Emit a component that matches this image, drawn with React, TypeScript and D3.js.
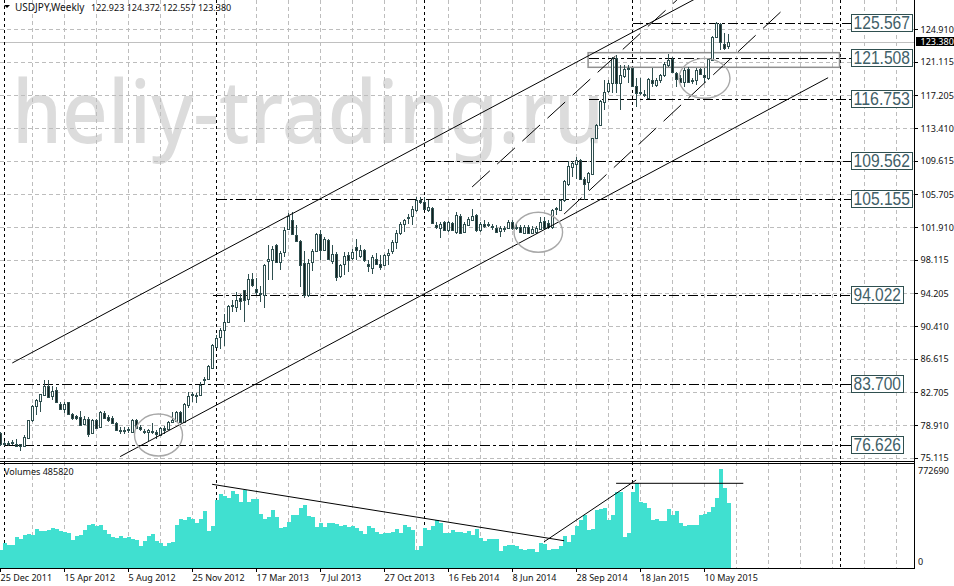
import * as d3 from "d3";

// weekly USDJPY candles
const opens = [
  77.98, 76.82, 76.78, 76.9, 76.74, 76.66, 76.46, 77.44, 79.45, 81.12,
  81.7, 82.36, 83.4, 82.25, 83.02, 81.39, 80.77, 81.54, 80.23, 79.92,
  79.84, 78.99, 79.64, 77.98, 79.53, 78.68, 80.34, 79.84, 79.76, 79.14,
  78.37, 78.33, 78.44, 78.09, 79.53, 78.68, 78.25, 78.09, 78.21, 78.13,
  77.78, 78.6, 78.41, 79.26, 79.38, 80.38, 79.3, 81.19, 82.43, 82.43,
  82.36, 84.25, 84.26, 85.57, 87.98, 89.14, 89.92, 90.88, 92.82, 92.63,
  93.64, 94.57, 93.59, 95.92, 94.66, 94.25, 93.98, 98.0, 98.05, 99.79,
  97.85, 99.02, 101.73, 102.7, 100.95, 100.3, 97.74, 93.98, 97.85, 99.13,
  101.15, 99.29, 100.37, 97.97, 98.82, 96.19, 97.58, 98.63, 98.32, 99.6,
  98.51, 99.21, 97.66, 97.16, 98.24, 97.66, 97.47, 98.71, 99.13, 100.18,
  101.23, 102.31, 103.05, 103.2, 103.94, 105.02, 104.79, 103.86, 104.17, 102.19,
  101.85, 102.47, 101.54, 102.39, 101.34, 103.2, 101.34, 102.19, 102.78, 103.28,
  101.54, 102.31, 102.2, 102.08, 101.85, 101.46, 101.7, 101.85, 102.5, 101.9,
  101.92, 101.27, 101.92, 101.27, 101.34, 101.73, 102.58, 102.39, 101.92, 104.05,
  103.94, 105.02, 106.88, 108.9, 109.21, 109.68, 107.43, 107.16, 108.12, 112.3,
  113.74, 116.46, 117.7, 118.59, 121.5, 118.59, 119.44, 120.26, 120.33, 118.28,
  117.5, 117.35, 116.85, 118.98, 118.4, 118.98, 119.56, 120.72, 121.38, 119.75,
  119.17, 118.78, 120.22, 118.98, 118.98, 120.22, 119.56, 119.17, 121.3, 124.02,
  125.49, 123.16, 122.923,
];
const highs = [
  78.1, 77.01, 77.0, 77.2, 77.3, 76.7, 77.7, 79.53, 81.2, 81.97,
  82.55, 84.1, 84.1, 83.4, 83.33, 81.58, 81.54, 81.58, 80.3, 80.03,
  80.54, 79.92, 79.84, 79.64, 79.64, 80.54, 80.54, 80.03, 79.92, 79.26,
  78.68, 78.68, 78.68, 79.61, 79.61, 78.87, 78.48, 78.48, 79.18, 78.29,
  78.68, 78.75, 79.38, 80.42, 80.54, 80.54, 81.47, 82.74, 82.74, 82.63,
  83.91, 84.49, 85.88, 88.29, 89.34, 90.23, 91.85, 92.9, 93.4, 94.37,
  94.18, 94.65, 96.5, 96.58, 96.03, 95.02, 97.66, 99.79, 99.67, 99.91,
  99.13, 101.92, 103.59, 103.67, 102.12, 100.37, 99.13, 98.24, 99.4, 101.23,
  101.54, 100.76, 100.57, 99.79, 99.02, 97.66, 99.02, 99.02, 99.4, 100.57,
  99.79, 99.4, 98.05, 98.63, 98.9, 98.63, 98.82, 99.4, 100.37, 101.54,
  102.5, 102.89, 103.47, 104.33, 105.41, 105.41, 105.41, 105.02, 104.25, 102.5,
  102.5, 102.62, 102.62, 102.54, 103.67, 103.47, 102.5, 103.09, 104.06, 103.47,
  102.5, 102.7, 102.5, 102.31, 102.12, 102.0, 102.0, 102.7, 102.7, 102.31,
  102.12, 102.12, 102.12, 102.0, 102.0, 103.09, 103.09, 102.7, 104.05, 104.25,
  105.22, 107.35, 109.56, 109.56, 110.06, 109.76, 107.74, 108.3, 112.27, 113.9,
  116.65, 118.98, 118.98, 121.69, 121.88, 120.72, 120.72, 120.72, 120.41, 119.17,
  119.17, 117.81, 119.17, 120.33, 119.17, 119.68, 121.11, 122.0, 121.61, 119.95,
  119.56, 120.33, 120.53, 119.17, 120.33, 120.33, 120.33, 121.5, 124.09, 125.76,
  125.57, 124.4, 124.372,
];
const lows = [
  76.5, 76.5, 76.5, 76.55, 76.45, 75.88, 76.42, 77.32, 79.26, 80.03,
  80.42, 82.36, 82.09, 81.85, 81.47, 80.69, 80.3, 80.11, 79.53, 79.45,
  78.75, 78.87, 77.51, 77.82, 78.44, 78.6, 79.64, 79.26, 78.99, 78.29,
  77.9, 77.9, 77.98, 78.06, 78.44, 78.21, 77.9, 77.0, 77.82, 77.32,
  77.71, 77.9, 78.29, 79.26, 79.26, 79.22, 79.22, 80.92, 81.58, 81.47,
  82.36, 83.52, 84.18, 85.5, 87.9, 87.78, 88.06, 90.77, 92.05, 92.05,
  92.24, 90.88, 92.81, 94.95, 93.98, 93.2, 92.54, 95.72, 95.8, 97.74,
  96.96, 98.44, 101.61, 101.07, 100.18, 94.95, 93.71, 93.78, 96.81, 99.02,
  98.13, 99.13, 98.05, 97.66, 95.64, 96.03, 96.3, 96.69, 98.13, 98.05,
  98.36, 97.85, 96.69, 96.42, 97.47, 96.88, 97.35, 97.47, 98.82, 99.4,
  100.95, 101.34, 102.31, 102.12, 103.67, 104.56, 103.94, 103.67, 102.23, 101.73,
  100.68, 101.46, 101.34, 101.46, 101.15, 101.07, 101.23, 102.0, 102.62, 101.34,
  101.34, 101.85, 101.92, 101.54, 101.23, 100.76, 101.34, 101.73, 101.54, 101.54,
  101.23, 101.15, 101.15, 101.15, 101.15, 101.54, 101.61, 101.73, 101.73, 103.28,
  103.86, 104.83, 106.65, 107.74, 107.54, 107.35, 105.1, 106.19, 108.0, 112.2,
  113.6, 115.49, 117.43, 117.43, 117.43, 115.49, 119.17, 118.59, 118.2, 115.8,
  117.23, 117.04, 116.73, 118.13, 118.13, 118.59, 119.37, 120.53, 119.83, 118.13,
  118.59, 118.2, 118.59, 118.51, 118.4, 119.56, 118.67, 118.98, 121.23, 123.82,
  122.47, 122.47, 122.557,
];
const closes = [
  76.74, 76.85, 76.82, 76.95, 76.5, 76.46, 77.5, 79.45, 81.12, 81.78,
  82.47, 83.4, 82.17, 82.82, 81.58, 80.77, 81.39, 80.15, 79.76, 79.68,
  78.91, 79.64, 77.9, 79.45, 78.52, 80.38, 79.76, 79.45, 79.14, 78.37,
  78.33, 78.37, 78.29, 79.53, 78.56, 78.41, 78.21, 78.37, 78.25, 77.82,
  78.6, 78.37, 79.26, 79.45, 80.38, 79.3, 81.31, 82.28, 82.47, 82.4,
  83.52, 84.27, 85.81, 88.17, 89.06, 89.99, 90.88, 92.78, 92.9, 93.48,
  93.33, 93.48, 95.92, 95.14, 94.41, 94.2, 97.47, 98.15, 99.4, 97.85,
  98.9, 101.54, 103.2, 101.15, 100.3, 97.47, 93.98, 97.78, 99.09, 101.15,
  99.21, 100.57, 98.24, 98.82, 96.11, 97.47, 98.55, 98.05, 99.02, 99.29,
  99.29, 98.05, 97.43, 98.44, 97.66, 97.27, 98.63, 98.94, 100.14, 101.23,
  102.31, 102.7, 103.13, 104.06, 105.1, 104.79, 104.06, 104.25, 102.39, 101.92,
  102.31, 101.61, 102.47, 101.61, 103.28, 101.23, 102.23, 102.81, 103.24, 101.54,
  102.23, 102.08, 102.25, 101.92, 101.3, 101.85, 101.75, 102.5, 101.85, 101.95,
  101.34, 101.92, 101.27, 101.73, 101.81, 102.5, 101.81, 101.92, 103.86, 104.1,
  105.02, 107.27, 108.98, 109.29, 109.68, 107.54, 106.88, 108.2, 112.27, 113.74,
  116.5, 117.62, 118.59, 121.5, 118.67, 119.56, 120.26, 120.4, 118.28, 117.5,
  117.55, 117.4, 119.05, 118.59, 118.98, 119.56, 120.8, 121.3, 119.95, 119.05,
  118.78, 120.14, 118.78, 119.02, 120.14, 119.68, 119.29, 121.42, 124.02, 125.57,
  123.44, 122.66, 123.38,
];
const volumes = [
  141000, 191000, 175000, 175000, 238000, 222000, 254000, 259000, 256000, 301000,
  288000, 285000, 293000, 309000, 301000, 285000, 277000, 272000, 214000, 248000,
  256000, 293000, 332000, 340000, 327000, 332000, 293000, 262000, 238000, 230000,
  246000, 235000, 238000, 220000, 212000, 167000, 207000, 248000, 262000, 207000,
  196000, 167000, 191000, 199000, 332000, 379000, 371000, 395000, 379000, 348000,
  379000, 442000, 285000, 324000, 528000, 575000, 560000, 547000, 599000, 578000,
  513000, 609000, 513000, 541000, 536000, 418000, 379000, 395000, 450000, 395000,
  309000, 316000, 356000, 411000, 411000, 465000, 489000, 405000, 395000, 316000,
  348000, 319000, 348000, 348000, 340000, 327000, 332000, 316000, 324000, 311000,
  288000, 262000, 324000, 309000, 277000, 262000, 269000, 269000, 277000, 301000,
  269000, 332000, 319000, 293000, 136000, 167000, 309000, 293000, 324000, 371000,
  348000, 269000, 269000, 293000, 277000, 277000, 269000, 285000, 254000, 301000,
  230000, 207000, 225000, 225000, 225000, 131000, 165000, 173000, 180000, 170000,
  149000, 139000, 146000, 144000, 123000, 194000, 183000, 139000, 144000, 146000,
  170000, 248000, 199000, 256000, 322000, 374000, 413000, 295000, 303000, 452000,
  460000, 465000, 374000, 413000, 591000, 596000, 243000, 269000, 596000, 662000,
  515000, 505000, 465000, 374000, 382000, 366000, 366000, 460000, 413000, 445000,
  348000, 322000, 335000, 335000, 335000, 413000, 421000, 439000, 471000, 549000,
  772690, 622000, 507000,
];

const priceTicks = ["124.910", "121.115", "117.205", "113.410", "109.615", "105.705", "101.910", "98.115", "94.205", "90.410", "86.615", "82.705", "78.910", "75.115"];
const dateLabels = ["25 Dec 2011", "15 Apr 2012", "5 Aug 2012", "25 Nov 2012", "17 Mar 2013", "7 Jul 2013", "27 Oct 2013", "16 Feb 2014", "8 Jun 2014", "28 Sep 2014", "18 Jan 2015", "10 May 2015"];
const weeksPerLabel = 16;

// level, first bar of the line
const levels: [number, number][] = [
  [125.567, 158],
  [121.508, 147],
  [116.753, 147],
  [109.562, 106],
  [105.155, 54],
  [94.022, 53],
  [83.7, 1],
  [76.626, 1],
];
const levelLastBar = 212.6;
const periodBars = [1, 54, 106, 158, 210];

// [bar, price, bar, price]
const channelLines = [
  [2.95, 86.12, 173.6, 128.39],
  [29.9, 75.24, 206.9, 119.25],
];
const dashedLines = [
  [117.9, 106.56, 169.1, 128.28],
  [140.9, 103.42, 196.1, 127.35],
];
const volumeLines = [
  [52.9, 652700, 140.9, 210000],
  [135.9, 202000, 158.9, 686000],
  [153.9, 660500, 185.7, 660500],
];
// bar, price, radius in bars, radius in price
const circles = [
  [39.5, 77.75, 6, 2.44],
  [134.45, 101.3, 6.07, 2.32],
  [176, 119.18, 6.375, 2.32],
];
const zoneBox = [146.9, 122.16, 209.75, 120.46];

const font = "'Noto Sans', sans-serif";
const slate = "#2f4f4f";

const App = () => {
  const x = d3.scaleLinear().domain([0, 1]).range([0.5, 4.5]);
  const y = d3.scaleLinear().domain([75.115, 124.91]).range([457.7, 29]);
  const v = d3.scaleLinear().domain([0, 772690]).range([567.5, 469]);
  const px = (n: number) => Math.round(n) + 0.5;

  const gridBars = d3.range(8, 232, 8);
  const segment = d3.line();

  return (
    <svg
      width={954}
      height={586}
      style={{ position: "absolute", left: 0, top: 0, background: "#fff" }}
      fontFamily={font}
    >
      <text x={12} y={143} fontSize={88} fontWeight={500} fill="#dcdcdc" textLength={592} lengthAdjust="spacingAndGlyphs">
        heliy-trading.ru
      </text>

      {/* grid */}
      <g stroke="#bdbdbd" strokeDasharray="4 3" shapeRendering="crispEdges">
        {priceTicks.map((t) => (
          <line key={t} x1={0} x2={914} y1={px(y(+t))} y2={px(y(+t))} />
        ))}
        {gridBars.map((b) => (
          <line key={b} x1={x(b)} x2={x(b)} y1={0} y2={568} />
        ))}
      </g>
      <line x1={0} x2={914} y1={42.5} y2={42.5} stroke="#c0c0c0" shapeRendering="crispEdges" />
      <g stroke="#000" strokeDasharray="3 3" shapeRendering="crispEdges">
        {periodBars.map((b) => (
          <line key={b} x1={x(b)} x2={x(b)} y1={0} y2={568} />
        ))}
      </g>

      {/* volumes */}
      <g fill="#40e0d0" shapeRendering="crispEdges">
        {volumes.map((d, i) => (
          <rect key={i} x={x(i) - 2} width={4} y={v(d)} height={v(0) - v(d)} />
        ))}
      </g>

      {/* levels */}
      <g stroke="#000" strokeDasharray="10 3 3 3" shapeRendering="crispEdges">
        {levels.map(([p, b]) => (
          <line key={p} x1={x(b)} x2={x(levelLastBar)} y1={px(y(p))} y2={px(y(p))} />
        ))}
      </g>

      <rect
        x={x(zoneBox[0])}
        y={y(zoneBox[1])}
        width={x(zoneBox[2]) - x(zoneBox[0])}
        height={y(zoneBox[3]) - y(zoneBox[1])}
        fill="none"
        stroke="#909090"
        strokeWidth={1.5}
      />

      {/* candles */}
      {opens.map((o, i) => {
        const c = closes[i];
        const up = c >= o;
        const top = px(y(Math.max(o, c)));
        const bottom = px(y(Math.min(o, c)));
        return (
          <g key={i} shapeRendering="crispEdges">
            <line x1={x(i)} x2={x(i)} y1={y(highs[i])} y2={y(lows[i])} stroke={slate} />
            <rect
              x={x(i) - 1}
              width={2}
              y={top}
              height={Math.max(bottom - top, 1)}
              fill={up ? "#fff" : "#14201f"}
              stroke={slate}
            />
          </g>
        );
      })}

      {/* trend lines */}
      <g fill="none" stroke="#000">
        {channelLines.map((l, i) => (
          <path key={i} d={segment([[x(l[0]), y(l[1])], [x(l[2]), y(l[3])]]) ?? ""} />
        ))}
        {dashedLines.map((l, i) => (
          <path key={i} d={segment([[x(l[0]), y(l[1])], [x(l[2]), y(l[3])]]) ?? ""} strokeDasharray="24 10" />
        ))}
        {volumeLines.map((l, i) => (
          <path key={i} d={segment([[x(l[0]), v(l[1])], [x(l[2]), v(l[3])]]) ?? ""} />
        ))}
      </g>
      <g fill="none" stroke="#a8a8a8" strokeWidth={1.4}>
        {circles.map((e, i) => (
          <ellipse
            key={i}
            cx={x(e[0])}
            cy={y(e[1])}
            rx={x(e[2]) - x(0)}
            ry={y(0) - y(e[3])}
          />
        ))}
      </g>

      {/* level labels */}
      {levels.map(([p]) => {
        const label = p.toFixed(3);
        const w = label.length > 6 ? 61 : 52;
        const cy = y(p);
        const top = Math.round(cy - 9);
        return (
          <g key={p}>
            <rect x={851.5} y={top + 0.5} width={w} height={17} fill="#fff" stroke={slate} shapeRendering="crispEdges" />
            <text
              x={853.5}
              y={top + 15}
              fontSize={18}
              fill="#3f6068"
              fontFamily="'Liberation Sans', sans-serif"
              textLength={w - 4.5}
              lengthAdjust="spacingAndGlyphs"
            >
              {label}
            </text>
          </g>
        );
      })}

      {/* frame */}
      <g stroke="#000" shapeRendering="crispEdges">
        <line x1={914.5} x2={914.5} y1={0} y2={568} />
        <line x1={0} x2={915} y1={461.5} y2={461.5} />
        <line x1={0} x2={915} y1={463.5} y2={463.5} />
        <line x1={0} x2={915} y1={568.5} y2={568.5} />
      </g>

      {/* price axis */}
      <g fontSize={9} fill="#111">
        {priceTicks.map((t) => (
          <g key={t}>
            <line x1={915} x2={918} y1={px(y(+t))} y2={px(y(+t))} stroke="#000" shapeRendering="crispEdges" />
            <text x={920.5} y={y(+t) + 3.5}>{t}</text>
          </g>
        ))}
      </g>
      <rect x={916} y={37} width={38} height={9} fill="#000" />
      <text x={920.5} y={45} fontSize={9} fill="#fff">123.380</text>
      <text x={918} y={474} fontSize={9} fill="#111">772690</text>
      <text x={918} y={565} fontSize={9} fill="#111">0</text>

      {/* time axis */}
      <g fontSize={9} fill="#111">
        {dateLabels.map((d, i) => (
          <g key={d}>
            <line x1={x(i * weeksPerLabel)} x2={x(i * weeksPerLabel)} y1={568} y2={572} stroke="#000" shapeRendering="crispEdges" />
            <text x={x(i * weeksPerLabel)} y={581}>{d}</text>
          </g>
        ))}
      </g>

      {/* header */}
      <path d="M4,5 L10,5 L7,8 Z" fill="#000" />
      <text x={15} y={10.5} fontSize={10} fill="#111">USDJPY,Weekly</text>
      <text x={91} y={10.5} fontSize={9} fill="#111">122.923 124.372 122.557 123.380</text>
      <text x={4} y={475} fontSize={9} fill="#111">Volumes 485820</text>
    </svg>
  );
};

export default App;
